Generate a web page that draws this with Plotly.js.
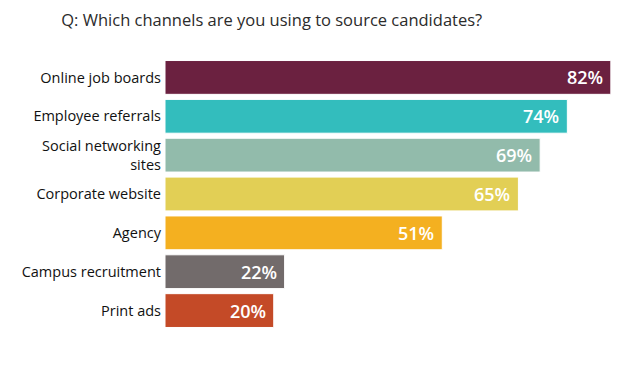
<!DOCTYPE html>
<html>
<head>
<meta charset="utf-8">
<script src="https://cdn.plot.ly/plotly-3.0.1.min.js"></script>
<style>html,body{margin:0;padding:0;background:#fff;}#chart{width:629px;height:370px;}</style>
</head>
<body>
<div id="chart"></div>
<script>
const categories = ["Online job boards", "Employee referrals", "Social networking<br>sites", "Corporate website", "Agency", "Campus recruitment", "Print ads"];
const values = [82, 74, 69, 65, 51, 22, 20];
const valueLabels = ["82%", "74%", "69%", "65%", "51%", "22%", "20%"];
const colors = ["#6b2140", "#33bdbd", "#92bbab", "#e2cf55", "#f4b020", "#726b6b", "#c44a27"];

const trace = {
  type: "bar",
  orientation: "h",
  y: categories,
  x: values,
  marker: {color: colors, line: {color: "#ffffff", width: 1}},
  hoverinfo: "none",
  text: valueLabels,
  textposition: "none"
};

const annotations = values.map((v, i) => ({
  x: v, y: categories[i], xref: "x", yref: "y",
  text: valueLabels[i], showarrow: false,
  xanchor: "right", xshift: -6,
  font: {family: "Open Sans, sans-serif", size: 18, color: "#ffffff", weight: 600}
}));

const layout = {
  width: 629, height: 370,
  margin: {l: 165, r: 10, t: 58, b: 40},
  paper_bgcolor: "#ffffff", plot_bgcolor: "#ffffff",
  title: {
    text: "Q: Which channels are you using to source candidates?",
    x: 0.432, xanchor: "center", xref: "container",
    y: 0.945, yanchor: "middle", yref: "container",
    font: {family: "Open Sans, sans-serif", size: 16.5, color: "#2b2b2b"}
  },
  bargap: 0.13,
  showlegend: false,
  xaxis: {range: [0, 83.5], visible: false, fixedrange: true},
  yaxis: {
    autorange: "reversed", showgrid: false, zeroline: false, showline: false,
    ticks: "", ticklabelstandoff: 3,
    tickfont: {family: "Open Sans, sans-serif", size: 14.5, color: "#111111"}
  },
  annotations: annotations
};

Plotly.newPlot("chart", [trace], layout, {displayModeBar: false, staticPlot: true});
</script>
</body>
</html>
